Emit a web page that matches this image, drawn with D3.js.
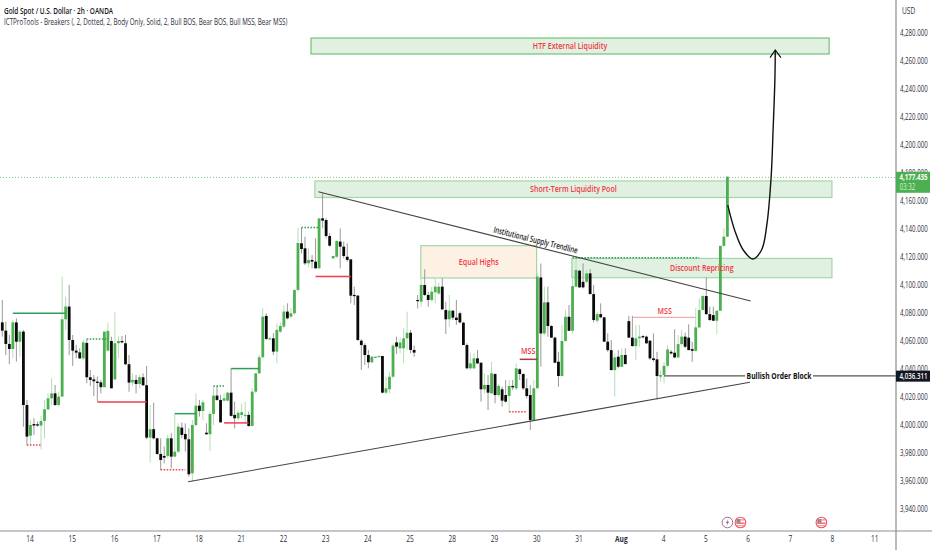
<!DOCTYPE html>
<html lang="en">
<head>
<meta charset="utf-8">
<title>Gold Spot / U.S. Dollar</title>
<script src="https://d3js.org/d3.v7.min.js"></script>
<style>
body { margin:0; background:#fff; }
svg { display:block; font-family:"Open Sans", sans-serif; }
.axis path, .axis line { display:none; }
.axis text { fill:#2a2e39; font-size:8.8px; font-family:"Open Sans", sans-serif; }
.zonelabel { fill:#f23645; font-size:9.4px; font-weight:600; text-anchor:middle; font-family:"Open Sans", sans-serif; }
</style>
</head>
<body>
<div id="chart"></div>
<script>
// candles, 2h bars
var opens = [
4073.3,4067.4,4057.9,4054.3,4073.3,4059.5,4066.7,4014.3,3992.4,4000.7,
4000.5,3999.6,4002.9,4011.2,4019.1,4022.6,4014.3,4020.3,4075.5,4084.6,
4060.7,4053.1,4051.9,4047.6,4058.6,4034.1,4032.6,4031,4030.5,4027,
4053.1,4060,4032.6,4058.4,4060,4058.4,4043.4,4030.5,4032.2,4029.3,
4034.1,4028.4,3991,3997,3990.5,3979.3,3977.9,3977.9,3990.5,3977.4,
3981,3998.1,3993.6,3989.8,3965.5,4000,4013.8,4010,3994.5,3993.4,
4007.9,4021,4017.9,4017.4,4017.4,4023.1,4007.2,4004.8,4007.2,4006.5,
4007.2,3999.3,4023.8,4036.9,4048.4,4077.9,4061.2,4061.9,4052.4,4066.7,
4070.3,4081,4077.4,4079.8,4096.5,4129.8,4126.2,4115.5,4117.9,4116.7,
4111.9,4147.6,4146.4,4135,4119,4120.2,4131,4127.4,4120.2,4118.3,
4092.9,4092.4,4060.2,4057.1,4050,4044.8,4048.1,4048.8,4049.3,4023.1,
4025.5,4034.5,4059,4054.8,4054.8,4061.9,4065.9,4053.6,4089.3,4088.1,
4100,4092.9,4089.3,4094.8,4094,4098.8,4082.1,4075.5,4081.7,4076.7,
4079.8,4073.1,4057.1,4040.5,4040.5,4047.6,4044.5,4025.5,4028.6,4022.6,
4036.4,4021.4,4025.5,4021.4,4020.7,4027.9,4026.2,4039.8,4036.4,4026.2,
4021.4,4003.6,4026.2,4105.4,4065.4,4087.6,4070.7,4062.4,4045.2,4035,
4060,4077.3,4067.3,4098.8,4110.2,4102.3,4102.3,4108.3,4093.5,4074.5,
4079.2,4076.9,4059.5,4053.5,4039.2,4048.8,4041.6,4050,4074.2,4062.4,
4056.4,4061.9,4063.5,4063.1,4060.2,4047.6,4046.9,4034.5,4035.7,4042.3,
4052.3,4051.6,4048.3,4057.8,4063.1,4062.4,4054.2,4053,4069.7,4082.1,
4092.1,4079.2,4078.5,4074.5,4081.6,4128,4134.5];
var highs = [
4089.3,4073.8,4064.3,4075,4076.2,4067.9,4067.9,4017.9,4003.6,4004.8,
4002.4,4006.5,4017.9,4022.6,4033.4,4028.6,4023.8,4106,4091.7,4100,
4064.3,4057.2,4054.8,4060.7,4061.2,4039.3,4035.7,4034.6,4032.2,4066.7,
4073.1,4063.1,4080.5,4063.1,4063.6,4064.3,4050,4036.9,4035.7,4035.7,
4036.9,4042.2,4014.3,4016,3991,3990.5,3984.6,3992.9,3994.1,4008.4,
4001.2,4001.7,4001.2,3997.6,4003.6,4022.6,4017.9,4017.9,4001.2,4009.6,
4027.9,4027.9,4021.5,4022.6,4023.8,4040.5,4016.7,4010.7,4015.5,4016.7,
4009.6,4026.2,4036.9,4050,4083.4,4079.8,4063.1,4065.5,4072.6,4073.1,
4085.7,4086.9,4083.4,4096.5,4140.7,4141,4134.5,4126.2,4121.4,4133.3,
4147.6,4165.5,4147.6,4136.9,4120.7,4132.1,4140.5,4131,4129.8,4118.3,
4098.8,4092.9,4061.2,4058.3,4053.6,4049.3,4049,4049.5,4049.3,4034.5,
4038.1,4058.3,4063.1,4062.6,4069,4081,4067.9,4056.7,4092.9,4104.8,
4111.2,4095.2,4098.8,4105.2,4101.7,4104.8,4088.1,4092.9,4081.7,4089.3,
4081,4073.8,4058.3,4051.2,4051.2,4053.6,4044.5,4036.9,4035.7,4045.2,
4036.9,4029.3,4027.4,4032.1,4032.1,4032.1,4044,4040.5,4036.9,4033.3,
4028.6,4032.1,4108.3,4115.4,4098.8,4098.8,4071.4,4063.1,4052.3,4071.4,
4082.1,4085.7,4119,4119,4110.7,4115.4,4110.7,4111.4,4100,4080.9,
4086.9,4077.3,4065.4,4060.7,4051.1,4053.5,4054.7,4054.7,4078,4078,
4071.4,4071.4,4064.2,4063.8,4060.7,4065.4,4052.3,4039.2,4045.2,4057.1,
4053.5,4068.3,4064.2,4067.8,4065.9,4071.9,4059.5,4083.3,4090.4,4092.8,
4105.4,4084.5,4084.5,4082.1,4128,4140.4,4177.4];
var lows = [
4063.1,4050,4043.4,4047.6,4045.3,4048.8,3998.8,3985.7,3985.7,3992.9,
3998.8,3982.6,3990.5,4010.7,4014.3,4013.6,4013.1,4020.3,4067.9,4050,
4042.2,4047.6,4047.2,4046.5,4029.8,4027.9,4020.7,4016.7,4022.6,4027,
4052.4,4026.2,4032.2,4047.6,4058.4,4042.9,4023.8,4027.9,4022.6,4026.2,
4027.9,3989.8,3973.1,3989.8,3978.6,3967.9,3972.6,3976.2,3969.1,3977.4,
3979.8,3990.5,3981,3963.1,3959.5,3998.8,4006,4003.6,3992.9,3981.5,
4000,4017.2,4001.7,4016.7,4016.7,4006,3997.6,4003.6,4004.8,4001.2,
3998.8,3999.3,4022.6,4036.4,4047.6,4060.7,4060.7,4050,4044.1,4065.5,
4069.1,4075.5,4076.2,4078.6,4095,4122.6,4114.3,4112.6,4111.9,4111.9,
4111.9,4140.5,4133.3,4127.4,4118.8,4119,4111.9,4119,4116.7,4086.9,
4085.7,4060.2,4039.3,4042.9,4040.5,4044,4047.9,4048.6,4022.6,4022.1,
4022.6,4033.3,4050.7,4051.2,4044,4053.6,4051.2,4048.8,4083.3,4084.5,
4092.1,4084.5,4088.1,4086.9,4092.9,4082.1,4065,4070.2,4075,4071.4,
4072.6,4057.1,4039.8,4039.3,4039.8,4043.6,4016.7,4022.6,4010.7,4022.6,
4015.5,4020.2,4013.1,4016,4009.5,4025,4025,4032.1,4025,4019,
3996.4,4003.6,4026.2,4041.6,4064.2,4063.1,4062.4,4044,4027.3,4034.5,
4059.5,4067.1,4065.4,4098.8,4098.1,4097.6,4101.1,4093.5,4073.3,4072.6,
4076.2,4059.5,4052.3,4039.2,4020.2,4040.4,4041.6,4043.5,4062.4,4055.9,
4046.4,4055.9,4061.9,4058.3,4046.4,4045.2,4018.3,4030.9,4029.7,4041.6,
4050.4,4047.6,4047.6,4057.1,4054.7,4053.5,4045.2,4052.3,4069,4082.1,
4078.5,4074.2,4074.2,4065,4081.6,4127.3,4134.5];
var closes = [
4067.4,4057.9,4054.3,4073.3,4059.5,4066.7,4014.3,3991.7,4000,3999.6,
3999.6,4002.9,4011.2,4019.1,4022.6,4014.3,4020.3,4075.5,4084.6,4060.7,
4053.1,4051.7,4047.6,4059,4034.1,4032.2,4031.2,4030,4027,4066.7,
4067.2,4026.2,4058.4,4060,4059,4043.4,4030.3,4032.2,4029.3,4034.1,
4028.4,3991,3997,3990.5,3979.3,3975,3976.7,3990.5,3977.4,3981,
3998.8,3992.9,3989.8,3964.8,4000,4013.8,4010,4016.2,3993.4,4007.9,
4021,4017.9,4001.9,4019.1,4023.1,4006.5,4004.8,4008.8,4009.1,4007.2,
3999.3,4023.8,4036.9,4048.4,4077.4,4061.5,4061.9,4052.4,4067.9,4070.7,
4081,4076.2,4079.8,4096.5,4130,4125.7,4115.5,4117.9,4116.7,4111.9,
4147.6,4146,4135,4128.1,4120.7,4131.4,4127.4,4120.7,4117.9,4092.4,
4092.1,4060.7,4057.1,4050,4044.8,4048.8,4048.8,4049.3,4023.1,4026.2,
4034.5,4056.7,4056,4059,4061.9,4065.9,4053.6,4051.7,4088.8,4100,
4092.9,4089.3,4095.2,4098.8,4098.8,4082.6,4075.5,4081.7,4076.7,4075,
4073.3,4057.1,4040.5,4044,4047.6,4044,4025.5,4028.6,4023.1,4036.9,
4021.4,4027.9,4017.4,4016.7,4027.9,4026.9,4040.5,4036.4,4026.2,4020.7,
4003.6,4026.2,4106,4065.4,4087.6,4070.7,4062.4,4044.5,4035,4060,
4077.3,4067.3,4099.2,4110.7,4098.3,4098.3,4108.3,4093.5,4075,4079.2,
4076.9,4059.5,4053.5,4039.2,4048.3,4041.6,4050,4043.5,4062.4,4056.4,
4061.9,4063.1,4062.6,4058.3,4047.6,4046.4,4035,4035.7,4042.3,4054,
4051.1,4048.3,4057.8,4063.1,4055.9,4053.5,4053,4069.7,4082.1,4092.1,
4079.2,4075,4074.5,4081.6,4128,4134.5,4177.4];

// time axis
var dayLabels = ["14","15","16","17","18","21","22","23","24","25","28","29","30","31","Aug","4","5","6","7","8","11"];
var dayBars = [8,20,32,44,56,68,80,92,104,116,128,140,152,164,176,188,200,212,224,236,248];
// price axis
var priceTicks = [4280,4260,4240,4220,4200,4180,4160,4140,4120,4100,4080,4060,4040,4020,4000,3980,3960,3940];

// zones (bar index, price)
var zoneNames = ["HTF External Liquidity","Short-Term Liquidity Pool","Equal Highs","Discount Repricing"];
var zoneStart = [87.7,88.8,118.9,161.8];
var zoneEnd = [234.9,235.7,151.8,235.7];
var zoneTop = [4276.4,4174.3,4128.1,4119];
var zoneBottom = [4265,4162.5,4105,4105.2];

// breaker lines
var breakKind = ["bull","bullDot","bear","bearDot","bull","bearDot","bullDot","bull","bear","bullDot","bear","bearDot","mss","mssThin","bullDot"];
var breakStart = [3,24,27,7,49,45,60,65,63,85,89,144,147,179,162];
var breakEnd = [18,30,41,11,55,52,63,73,70,90,99,149,152,197,198];
var breakPrice = [4079.8,4061.4,4016.5,3985.7,4008.1,3968.1,4027.9,4040.3,4001.5,4141,4106,4009.5,4046.9,4076.9,4119.5];

// trendlines
var trendX1 = [89.8,52.8];
var trendY1 = [4166.6,3959.5];
var trendX2 = [212.6,212.4];
var trendY2 = [4088.6,4030.5];

// projected path
var pathBars = [206.1,208.2,210.5,213.2,215.7,217.2,218.4,219,219.5,219.6];
var pathPrices = [4157.1,4138.1,4125,4118.6,4125,4142.9,4176.2,4211.9,4247.6,4267.9];
var arrowBars = [218.1,219.6,221.2];
var arrowPrices = [4262.4,4267.9,4262.4];

var lastPrice = 4177.435;
var obPrice = 4036.311;
var obStart = 188;
var eventBars = [206,209.7,232.7];
var eventKind = ["bolt","flag","flag"];

var w = 932, h = 550;
var axisX = 896, axisY = 531;

var x = d3.scaleLinear().domain([0,206]).range([2.3,727.4]);
var y = d3.scaleLinear().domain([4280,3940]).range([33,509]);

var svg = d3.select("#chart").append("svg").attr("width",w).attr("height",h);
var green = "#4caf50";

// the picture's text is squashed sideways, so narrow the glyphs the same way
function squeeze(sel,f){
	sel.each(function(){
		var px = +this.getAttribute("x") || 0;
		var t = this.getAttribute("transform") || "";
		this.setAttribute("transform",t+" translate("+px+",0) scale("+f+",1) translate("+(-px)+",0)");
	});
	return sel;
}

// last price line
svg.append("line").attr("x1",0).attr("x2",axisX).attr("y1",y(lastPrice)+0.8).attr("y2",y(lastPrice)+0.8)
	.attr("stroke","#81c784").attr("stroke-width",1).attr("stroke-dasharray","1,2");

// zones
zoneNames.forEach(function(n,i){
	svg.append("rect")
		.attr("x",x(zoneStart[i])).attr("y",y(zoneTop[i]))
		.attr("width",x(zoneEnd[i])-x(zoneStart[i])).attr("height",y(zoneBottom[i])-y(zoneTop[i]))
		.attr("fill", n=="Equal Highs" ? "#fdf1e3" : "#e0f0e1")
		.attr("stroke", n=="HTF External Liquidity" ? "#74c178" : "#a5d6a7")
		.attr("stroke-width",1.2);
});

// candles
var idx = d3.range(opens.length);
var candles = svg.append("g");
candles.selectAll("line").data(idx).enter().append("line")
	.attr("x1",function(i){return x(i);}).attr("x2",function(i){return x(i);})
	.attr("y1",function(i){return y(highs[i]);}).attr("y2",function(i){return y(lows[i]);})
	.attr("stroke",function(i){return closes[i]>=opens[i] ? "#b5dfb7" : "#999";})
	.attr("stroke-width",1);
candles.selectAll("rect").data(idx).enter().append("rect")
	.attr("x",function(i){return x(i)-1.4;}).attr("width",2.8)
	.attr("y",function(i){return y(Math.max(opens[i],closes[i]));})
	.attr("height",function(i){return Math.max(1.2,Math.abs(y(opens[i])-y(closes[i])));})
	.attr("fill",function(i){return closes[i]>=opens[i] ? green : "#0a0a0a";});

// breaker lines
var breakColor = {bull:"#2e9e5b",bullDot:"#2e9e5b",bear:"#ef3d4a",bearDot:"#ef3d4a",mss:"#a33f3f",mssThin:"#ee8f8f"};
breakKind.forEach(function(k,i){
	svg.append("line")
		.attr("x1",x(breakStart[i])).attr("x2",x(breakEnd[i]))
		.attr("y1",y(breakPrice[i])).attr("y2",y(breakPrice[i]))
		.attr("stroke",breakColor[k])
		.attr("stroke-width",k=="mssThin" ? 0.9 : 1.5)
		.attr("stroke-dasharray",/Dot/.test(k) ? "1.5,1.5" : null);
});

// trendlines
trendX1.forEach(function(v,i){
	svg.append("line").attr("x1",x(v)).attr("y1",y(trendY1[i]))
		.attr("x2",x(trendX2[i])).attr("y2",y(trendY2[i]))
		.attr("stroke","#444").attr("stroke-width",1.1);
});

// projected path
var line = d3.line().x(function(d){return x(d[0]);}).y(function(d){return y(d[1]);});
svg.append("path").attr("d",line.curve(d3.curveCatmullRom)(d3.zip(pathBars,pathPrices)))
	.attr("fill","none").attr("stroke","#111").attr("stroke-width",1.4);
svg.append("path").attr("d",line.curve(d3.curveLinear)(d3.zip(arrowBars,arrowPrices)))
	.attr("fill","none").attr("stroke","#111").attr("stroke-width",1.2);

// order block line, stopped around its label
svg.append("line").attr("x1",x(obStart)).attr("x2",745).attr("y1",y(obPrice)+1.7).attr("y2",y(obPrice)+1.7).attr("stroke","#555").attr("stroke-width",1.4);
svg.append("line").attr("x1",813).attr("x2",axisX).attr("y1",y(obPrice)+1.7).attr("y2",y(obPrice)+1.7).attr("stroke","#555").attr("stroke-width",1.4);
squeeze(svg.append("text").attr("x",779).attr("y",y(obPrice)+4.8).attr("text-anchor","middle")
	.attr("font-size",9.4).attr("font-weight",700).attr("fill","#111").text("Bullish Order Block"),0.72);

// zone labels
zoneNames.forEach(function(n,i){
	squeeze(svg.append("text").attr("class","zonelabel")
		.attr("x",(x(zoneStart[i])+x(zoneEnd[i]))/2)
		.attr("y",(y(zoneTop[i])+y(zoneBottom[i]))/2+3)
		.text(n),0.75);
});
squeeze(svg.append("text").attr("class","zonelabel").attr("x",x(149.4)).attr("y",y(4051)).text("MSS"),0.75);
squeeze(svg.append("text").attr("class","zonelabel").attr("x",x(188.2)).attr("y",y(4079)).text("MSS"),0.75);
var trendAngle = Math.atan2(y(trendY2[0])-y(trendY1[0]),x(trendX2[0])-x(trendX1[0]))*180/Math.PI;
squeeze(svg.append("text").attr("transform","translate("+x(151.3)+","+y(4130)+") rotate("+trendAngle+")")
	.attr("text-anchor","middle").attr("font-size",8.8).attr("font-weight",600).attr("fill","#222").text("Institutional Supply Trendline"),0.69);

// axes
var yAxis = d3.axisRight(y).tickValues(priceTicks).tickFormat(d3.format(",.3f")).tickSize(0).tickPadding(4);
var yg = svg.append("g").attr("class","axis").attr("transform","translate("+axisX+",0)").call(yAxis);
squeeze(yg.selectAll("text"),0.7);
var xAxis = d3.axisBottom(x).tickValues(dayBars).tickFormat(function(d,i){return dayLabels[i];}).tickSize(0).tickPadding(5);
var xg = svg.append("g").attr("class","axis").attr("transform","translate(-1,"+axisY+")").call(xAxis);
xg.selectAll("text").style("font-weight",function(d,i){return dayLabels[i]=="Aug" ? 700 : null;});
squeeze(xg.selectAll("text"),0.75);

svg.append("line").attr("x1",axisX).attr("x2",axisX).attr("y1",0).attr("y2",h).attr("stroke","#8a8d96").attr("stroke-width",1.2);
svg.append("line").attr("x1",0).attr("x2",w).attr("y1",axisY).attr("y2",axisY).attr("stroke","#8a8d96").attr("stroke-width",1.2);

squeeze(svg.append("text").attr("x",902).attr("y",14.5).attr("font-size",8.8).attr("fill","#2a2e39").text("USD"),0.75);

// price tags
svg.append("rect").attr("x",axisX).attr("y",y(lastPrice)-4.8).attr("width",34).attr("height",21).attr("fill",green);
squeeze(svg.append("text").attr("x",899.5).attr("y",y(lastPrice)+3.6).attr("font-size",8.8).attr("font-weight",700).attr("fill","#fff").text(d3.format(",.3f")(lastPrice)),0.7);
squeeze(svg.append("text").attr("x",899.5).attr("y",y(lastPrice)+13).attr("font-size",8.6).attr("fill","#d7efd8").text("03:32"),0.72);
svg.append("rect").attr("x",axisX).attr("y",y(obPrice)-3.5).attr("width",34).attr("height",11).attr("fill","#131722");
squeeze(svg.append("text").attr("x",899.5).attr("y",y(obPrice)+5).attr("font-size",8.8).attr("font-weight",600).attr("fill","#fff").text(d3.format(",.3f")(obPrice)),0.7);

// event icons
eventKind.forEach(function(k,i){
	var g = svg.append("g").attr("transform","translate("+x(eventBars[i])+",522.5)");
	if(k=="bolt"){
		g.append("circle").attr("r",5.3).attr("fill","#fff").attr("stroke","#8e5f7e").attr("stroke-width",0.9);
		g.append("path").attr("d","M1,-3.5L-1.6,0.6H0L-1,3.5L1.7,-0.7H0Z").attr("fill","#8e5f7e");
	} else {
		g.append("circle").attr("r",5.3).attr("fill","#fff").attr("stroke","#f7525f").attr("stroke-width",1.1);
		g.append("rect").attr("x",-3.6).attr("y",-3.4).attr("width",7.2).attr("height",1.5).attr("fill","#f7a0a8");
		g.append("rect").attr("x",-4.2).attr("y",0).attr("width",8.4).attr("height",1.3).attr("fill","#f7525f");
		g.append("rect").attr("x",-3.6).attr("y",2.4).attr("width",7.2).attr("height",1.2).attr("fill","#f7a0a8");
		g.append("rect").attr("x",-4).attr("y",-3.4).attr("width",4).attr("height",3.8).attr("fill","#8d8d8d");
	}
});

// legend
squeeze(svg.append("text").attr("x",4).attr("y",14).attr("font-size",8.8).attr("font-weight",600).attr("fill","#131722").text("Gold Spot / U.S. Dollar \u00b7 2h \u00b7 OANDA"),0.73);
squeeze(svg.append("text").attr("x",4).attr("y",25).attr("font-size",8.8).attr("fill","#2a2e39").text("ICTProTools - Breakers (, 2, Dotted, 2, Body Only, Solid, 2, Bull BOS, Bear BOS, Bull MSS, Bear MSS)"),0.71);
</script>
</body>
</html>
